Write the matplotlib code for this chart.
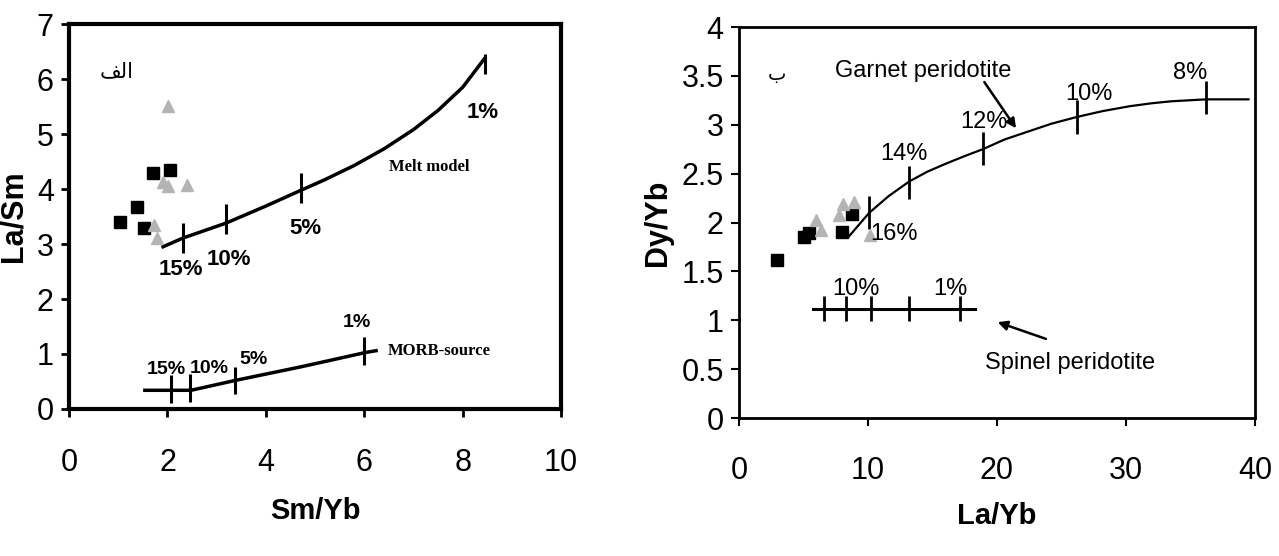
import matplotlib.pyplot as plt

# ---- panel a (left): La/Sm vs Sm/Yb ----
sq_a_x = [1.04, 1.38, 1.52, 1.71, 2.05]
sq_a_y = [3.40, 3.67, 3.29, 4.29, 4.35]
tri_a_x = [2.01, 1.91, 2.01, 2.40, 1.73, 1.78]
tri_a_y = [5.51, 4.13, 4.05, 4.07, 3.35, 3.11]

melt_x = [1.91, 2.32, 3.19, 4.0, 4.72, 5.2, 5.8, 6.4, 7.0, 7.5, 8.0, 8.45]
melt_y = [2.95, 3.11, 3.38, 3.69, 3.98, 4.17, 4.43, 4.73, 5.08, 5.43, 5.85, 6.38]
melt_tick_x = [2.32, 3.19, 4.72, 8.45]
melt_tick_y = [3.11, 3.45, 4.02, 6.28]
melt_labels = ['15%', '10%', '5%', '1%']
melt_label_x = [2.28, 3.25, 4.80, 8.41]
melt_label_y = [2.53, 2.71, 3.29, 5.40]

morb_x = [1.54, 2.48, 3.38, 4.73, 6.04, 6.24]
morb_y = [0.34, 0.34, 0.52, 0.77, 1.03, 1.06]
morb_tick_x = [2.07, 2.45, 3.38, 6.00]
morb_tick_y = [0.36, 0.38, 0.52, 1.05]
morb_labels = ['15%', '10%', '5%', '1%']
morb_label_x = [1.98, 2.84, 3.75, 5.85]
morb_label_y = [0.71, 0.74, 0.90, 1.58]

# ---- panel b (right): Dy/Yb vs La/Yb ----
sq_b_x = [2.97, 5.04, 5.45, 7.96, 8.73]
sq_b_y = [1.62, 1.85, 1.89, 1.90, 2.09]
tri_b_x = [5.97, 6.36, 7.78, 8.04, 8.94, 10.16]
tri_b_y = [2.03, 1.92, 2.08, 2.19, 2.21, 1.87]

garnet_x = [8.47, 10.1, 11.6, 13.2, 14.6, 16.0, 17.5, 18.9, 20.6, 22.4,
            24.2, 26.2, 28.2, 30.3, 32.0, 33.5, 36.2, 39.5]
garnet_y = [1.85, 2.10, 2.27, 2.42, 2.52, 2.60, 2.68, 2.75, 2.85, 2.93,
            3.01, 3.08, 3.14, 3.19, 3.22, 3.24, 3.26, 3.26]
garnet_tick_x = [10.1, 13.2, 18.9, 26.2, 36.2]
garnet_tick_y = [2.10, 2.41, 2.76, 3.08, 3.28]
garnet_labels = ['16%', '14%', '12%', '10%', '8%']
garnet_label_x = [12.0, 12.8, 19.0, 27.1, 35.0]
garnet_label_y = [1.88, 2.70, 3.03, 3.31, 3.53]

spinel_x = [5.77, 18.3]
spinel_y = [1.12, 1.12]
spinel_tick_x = [6.57, 8.29, 10.2, 13.2, 17.1]
spinel_labels = ['10%', '1%']
spinel_label_x = [9.07, 16.4]
spinel_label_y = [1.32, 1.32]

SANS = ['Liberation Sans', 'DejaVu Sans']
TRI_GRAY = '#b4b4b4'

fig = plt.figure(figsize=(12.79, 5.56), dpi=100)
ax1 = fig.add_axes([0.054, 0.2644, 0.3847, 0.6924])
ax2 = fig.add_axes([0.5778, 0.2482, 0.4034, 0.7032])

# left panel
ax1.plot(melt_x, melt_y, color='black', lw=2.5)
ax1.plot(morb_x, morb_y, color='black', lw=2.5)
ax1.vlines(melt_tick_x[:3], [y - 0.27 for y in melt_tick_y[:3]],
           [y + 0.27 for y in melt_tick_y[:3]], color='black', lw=2.2)
ax1.vlines(melt_tick_x[3:], [y - 0.18 for y in melt_tick_y[3:]],
           [y + 0.18 for y in melt_tick_y[3:]], color='black', lw=2.2)
ax1.vlines(morb_tick_x, [y - 0.25 for y in morb_tick_y],
           [y + 0.25 for y in morb_tick_y], color='black', lw=2.2)
ax1.plot(sq_a_x, sq_a_y, 's', color='black', ms=8.5, ls='none')
ax1.plot(tri_a_x, tri_a_y, '^', color=TRI_GRAY, ms=8.5, ls='none')
for lab, x, y in zip(melt_labels, melt_label_x, melt_label_y):
    ax1.text(x, y, lab, ha='center', va='center', fontsize=16,
             fontweight='bold', family=SANS)
for lab, x, y in zip(morb_labels, morb_label_x, morb_label_y):
    ax1.text(x, y, lab, ha='center', va='center', fontsize=14,
             fontweight='bold', family=SANS)
ax1.text(7.32, 4.4, 'Melt model', ha='center', va='center', fontsize=12,
         fontweight='bold', family='Liberation Serif')
ax1.text(7.52, 1.05, 'MORB-source', ha='center', va='center', fontsize=12,
         fontweight='bold', family='Liberation Serif')
# "الف" written in visual order with Arabic presentation forms
ax1.text(0.96, 6.14, '\ufed2\ufedf\ufe8d', ha='center', va='center',
         fontsize=15, family='DejaVu Sans')
ax1.set_xlim(0, 10)
ax1.set_ylim(0, 7)
ax1.set_xticks([0, 2, 4, 6, 8, 10])
ax1.set_yticks(range(8))
ax1.set_xlabel('Sm/Yb', fontsize=21, fontweight='bold', family=SANS,
               labelpad=14)
ax1.set_ylabel('La/Sm', fontsize=22, fontweight='bold', family=SANS,
               labelpad=6)
for s in ax1.spines.values():
    s.set_linewidth(3)
ax1.tick_params(direction='out', length=6, width=2)
ax1.tick_params(axis='x', pad=22)
ax1.tick_params(axis='y', pad=5)

# right panel
ax2.plot(garnet_x, garnet_y, color='black', lw=1.6)
ax2.vlines(garnet_tick_x, [y - 0.17 for y in garnet_tick_y],
           [y + 0.17 for y in garnet_tick_y], color='black', lw=2)
ax2.plot(spinel_x, spinel_y, color='black', lw=2.2)
ax2.vlines(spinel_tick_x, [spinel_y[0] - 0.13] * len(spinel_tick_x),
           [spinel_y[0] + 0.13] * len(spinel_tick_x), color='black', lw=2)
ax2.plot(sq_b_x, sq_b_y, 's', color='black', ms=8.5, ls='none')
ax2.plot(tri_b_x, tri_b_y, '^', color=TRI_GRAY, ms=8.5, ls='none')
for lab, x, y in zip(garnet_labels, garnet_label_x, garnet_label_y):
    ax2.text(x, y, lab, ha='center', va='center', fontsize=17,
             family=SANS)
for lab, x, y in zip(spinel_labels, spinel_label_x, spinel_label_y):
    ax2.text(x, y, lab, ha='center', va='center', fontsize=17,
             family=SANS)
ax2.text(14.3, 3.55, 'Garnet peridotite', ha='center', va='center',
         fontsize=17, family=SANS)
ax2.annotate('', xy=(21.6, 2.94), xytext=(18.9, 3.46),
             arrowprops=dict(arrowstyle='-|>', color='black', lw=1.8,
                             mutation_scale=14))
ax2.text(25.7, 0.56, 'Spinel peridotite', ha='center', va='center',
         fontsize=17, family=SANS)
ax2.annotate('', xy=(19.85, 0.99), xytext=(24.0, 0.80),
             arrowprops=dict(arrowstyle='-|>', color='black', lw=1.8,
                             mutation_scale=14))
ax2.text(2.92, 3.51, '\u0628', ha='center', va='center', fontsize=14,
         family='DejaVu Sans')
ax2.set_xlim(0, 40)
ax2.set_ylim(0, 4)
ax2.set_xticks([0, 10, 20, 30, 40])
ax2.set_yticks([0, 0.5, 1, 1.5, 2, 2.5, 3, 3.5, 4])
ax2.set_yticklabels(['0', '0.5', '1', '1.5', '2', '2.5', '3', '3.5', '4'])
ax2.set_xlabel('La/Yb', fontsize=21, fontweight='bold', family=SANS,
               labelpad=12)
ax2.set_ylabel('Dy/Yb', fontsize=22, fontweight='bold', family=SANS,
               labelpad=6)
for s in ax2.spines.values():
    s.set_linewidth(2)
ax2.tick_params(direction='out', length=6, width=1.5)
ax2.tick_params(axis='x', pad=21)
ax2.tick_params(axis='y', pad=5)

for ax in (ax1, ax2):
    for lab in ax.get_xticklabels() + ax.get_yticklabels():
        lab.set_family(SANS)
        lab.set_fontsize(22)

fig.savefig('out.png', dpi=100)
